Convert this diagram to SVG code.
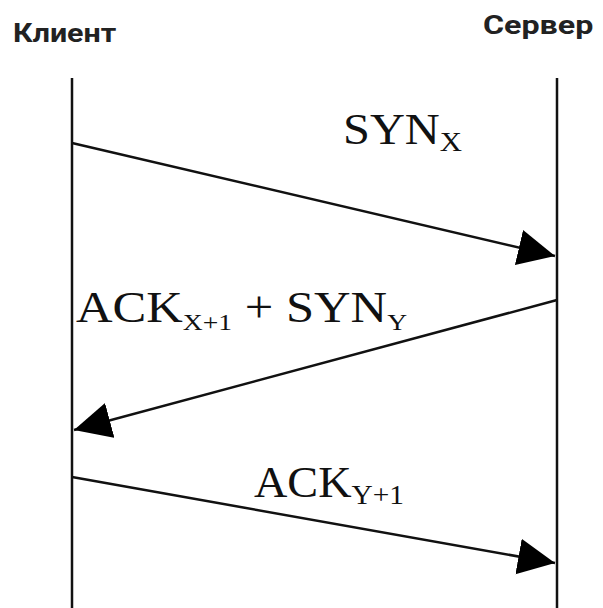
<svg xmlns="http://www.w3.org/2000/svg" width="603" height="608" viewBox="0 0 603 608">
<style>
.life{stroke:#111;stroke-width:2.5;fill:none}
.msg{stroke:#111;stroke-width:2.5;fill:none;marker-end:url(#ah)}
.hdr{font-family:Roboto,"Liberation Sans",sans-serif;font-weight:bold;font-size:26px;fill:#222}
.lbl{font-family:"Liberation Serif","Times New Roman",serif;font-size:44px;fill:#111}
.sub{font-size:28px}
.sub2{font-size:24px}
</style>
<defs>
<marker id="ah" markerUnits="userSpaceOnUse" markerWidth="40" markerHeight="38" refX="37" refY="18" orient="auto">
<path d="M0,0 L37,18 L0,36 Z" fill="#000"/>
</marker>
</defs>
<rect width="603" height="608" fill="#fff"/>
<g id="client">
<text class="hdr" transform="translate(13,42) scale(1.17,1)">Клиент</text>
<line class="life" x1="72" y1="78" x2="72" y2="608"/>
</g>
<g id="server">
<text class="hdr" transform="translate(483,34) scale(1.24,1)">Сервер</text>
<line class="life" x1="557" y1="78" x2="557" y2="608"/>
</g>
<g id="connectors">
<line class="msg" x1="72" y1="143" x2="555" y2="256"/>
<line class="msg" x1="557" y1="300" x2="74" y2="430"/>
<line class="msg" x1="72" y1="477" x2="555" y2="563"/>
</g>
<g id="labels">
<text class="lbl" transform="translate(343,144) scale(1.1,1)">SYN<tspan class="sub" dy="7">X</tspan></text>
<text class="lbl" transform="translate(76,322) scale(1.15,1)">ACK<tspan class="sub2" dy="8">X+1</tspan><tspan dy="-8"> + SYN</tspan><tspan class="sub2" dy="8">Y</tspan></text>
<text class="lbl" transform="translate(254,497) scale(1.05,1)">ACK<tspan class="sub" dy="7">Y+1</tspan></text>
</g>
</svg>
